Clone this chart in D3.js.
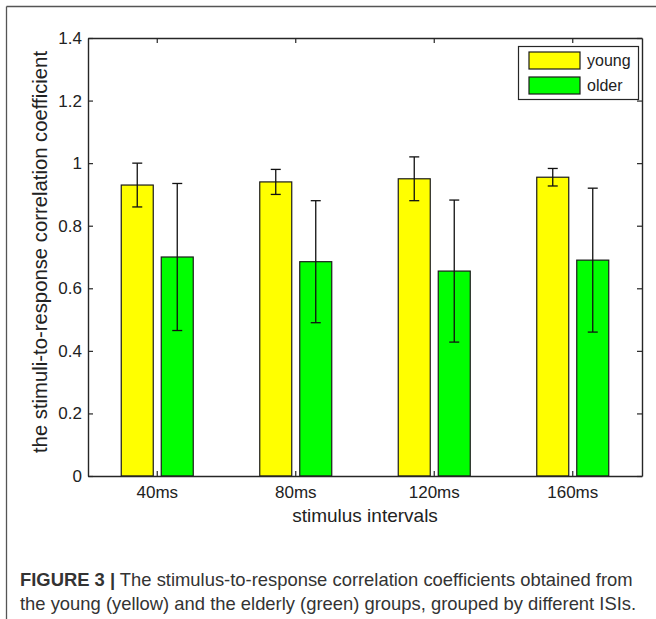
<!DOCTYPE html>
<html>
<head>
<meta charset="utf-8">
<script src="https://cdn.jsdelivr.net/npm/d3@7"></script>
<style>
  html, body { margin: 0; padding: 0; background: #fff; }
  svg { display: block; }
  text { font-family: "Liberation Sans", Arial, Helvetica, sans-serif; }
</style>
</head>
<body>
<svg id="chart" width="656" height="619"></svg>
<script>
// ---- data ----
const categories = ["40ms", "80ms", "120ms", "160ms"];
const seriesNames = ["young", "older"];
const youngMeans = [0.93, 0.94, 0.95, 0.955];
const youngErrors = [0.07, 0.04, 0.07, 0.028];
const olderMeans = [0.70, 0.685, 0.655, 0.69];
const olderErrors = [0.235, 0.195, 0.227, 0.23];
const yTicks = [0, 0.2, 0.4, 0.6, 0.8, 1, 1.2, 1.4];
const yTickLabels = ["0", "0.2", "0.4", "0.6", "0.8", "1", "1.2", "1.4"];
const seriesColors = ["#ffff00", "#00ff00"];
const yLabel = "the stimuli-to-response correlation coefficient";
const xLabel = "stimulus intervals";
const captionBold = "FIGURE 3 |";
const captionLine1 = " The stimulus-to-response correlation coefficients obtained from";
const captionLine2 = "the young (yellow) and the elderly (green) groups, grouped by different ISIs.";

const rows = [];
categories.forEach((c, i) => {
  rows.push({ cat: c, series: "young", mean: youngMeans[i], err: youngErrors[i] });
  rows.push({ cat: c, series: "older", mean: olderMeans[i], err: olderErrors[i] });
});

// ---- layout ----
const svg = d3.select("#chart");
const plot = { left: 88, right: 642, top: 38, bottom: 476 };
const axisColor = "#262626";

// outer figure frame (left + top visible)
svg.append("line").attr("x1", 6.5).attr("x2", 6.5).attr("y1", 6.5).attr("y2", 619).attr("stroke", "#555").attr("stroke-width", 1.3);
svg.append("line").attr("x1", 6.5).attr("x2", 656).attr("y1", 6.5).attr("y2", 6.5).attr("stroke", "#555").attr("stroke-width", 1.3);

const x = d3.scaleBand().domain(categories).range([plot.left, plot.right]).paddingInner(0).paddingOuter(0);
const xInner = d3.scaleBand().domain(seriesNames).range([-40, 40]).paddingInner(0.2).paddingOuter(0.1);
const y = d3.scaleLinear().domain([0, 1.4]).range([plot.bottom, plot.top]);
const color = d3.scaleOrdinal().domain(seriesNames).range(seriesColors);

const g = svg.append("g");

// bars
g.selectAll("rect.bar").data(rows).join("rect")
  .attr("class", "bar")
  .attr("x", d => x(d.cat) + x.bandwidth() / 2 + xInner(d.series))
  .attr("width", xInner.bandwidth())
  .attr("y", d => y(d.mean))
  .attr("height", d => y(0) - y(d.mean))
  .attr("fill", d => color(d.series))
  .attr("stroke", "#1a1a1a")
  .attr("stroke-width", 1.2);

// error bars
const cx = d => x(d.cat) + x.bandwidth() / 2 + xInner(d.series) + xInner.bandwidth() / 2;
const eb = g.selectAll("g.err").data(rows).join("g").attr("class", "err")
  .attr("stroke", "#111").attr("stroke-width", 1.3);
eb.append("line").attr("x1", cx).attr("x2", cx).attr("y1", d => y(d.mean - d.err)).attr("y2", d => y(d.mean + d.err));
eb.append("line").attr("x1", d => cx(d) - 5).attr("x2", d => cx(d) + 5).attr("y1", d => y(d.mean + d.err)).attr("y2", d => y(d.mean + d.err));
eb.append("line").attr("x1", d => cx(d) - 5).attr("x2", d => cx(d) + 5).attr("y1", d => y(d.mean - d.err)).attr("y2", d => y(d.mean - d.err));

// axes (MATLAB style, inward ticks, box)
const tickLen = 5;
const fmt = v => yTickLabels[yTicks.indexOf(v)];
const yAxisL = d3.axisLeft(y).tickValues(yTicks).tickFormat(fmt).tickSizeInner(-tickLen).tickSizeOuter(0).tickPadding(6);
const yAxisR = d3.axisRight(y).tickValues(yTicks).tickFormat("").tickSizeInner(-tickLen).tickSizeOuter(0);
const xAxisB = d3.axisBottom(x).tickSizeInner(-tickLen).tickSizeOuter(0).tickPadding(10);
const xAxisT = d3.axisTop(x).tickFormat("").tickSizeInner(-tickLen).tickSizeOuter(0);

function styleAxis(sel) {
  sel.select(".domain").attr("stroke", axisColor).attr("stroke-width", 1.4);
  sel.selectAll(".tick line").attr("stroke", axisColor).attr("stroke-width", 1.2);
  sel.selectAll(".tick text").attr("fill", "#222").style("font-size", "17px").attr("font-family", null);
}
svg.append("g").attr("transform", `translate(${plot.left},0)`).call(yAxisL).call(styleAxis);
svg.append("g").attr("transform", `translate(${plot.right},0)`).call(yAxisR).call(styleAxis);
svg.append("g").attr("transform", `translate(0,${plot.bottom})`).call(xAxisB).call(styleAxis);
svg.append("g").attr("transform", `translate(0,${plot.top})`).call(xAxisT).call(styleAxis);

// axis labels
svg.append("text")
  .attr("transform", `translate(47,${(plot.top + plot.bottom) / 2 - 5}) rotate(-90)`)
  .attr("text-anchor", "middle")
  .attr("fill", "#222")
  .style("font-size", "20.3px")
  .text(yLabel);
svg.append("text")
  .attr("x", (plot.left + plot.right) / 2)
  .attr("y", 522)
  .attr("text-anchor", "middle")
  .attr("fill", "#222")
  .style("font-size", "19px")
  .text(xLabel);

// legend
const leg = svg.append("g");
leg.append("rect").attr("x", 518.5).attr("y", 46.5).attr("width", 120).attr("height", 53)
  .attr("fill", "#fff").attr("stroke", axisColor).attr("stroke-width", 1.2);
seriesNames.forEach((s, i) => {
  leg.append("rect").attr("x", 529).attr("y", 52 + i * 25).attr("width", 51).attr("height", 17)
    .attr("fill", color(s)).attr("stroke", "#1a1a1a").attr("stroke-width", 1.2);
  leg.append("text").attr("x", 587).attr("y", 66 + i * 25).attr("fill", "#222")
    .style("font-size", "16px").text(s);
});

// caption
const cap1 = svg.append("text").attr("x", 20).attr("y", 586).attr("fill", "#333").style("font-size", "18.4px");
cap1.append("tspan").attr("font-weight", "bold").text(captionBold);
cap1.append("tspan").text(captionLine1);
svg.append("text").attr("x", 20).attr("y", 610).attr("fill", "#333").style("font-size", "18.4px").text(captionLine2);
</script>
</body>
</html>
